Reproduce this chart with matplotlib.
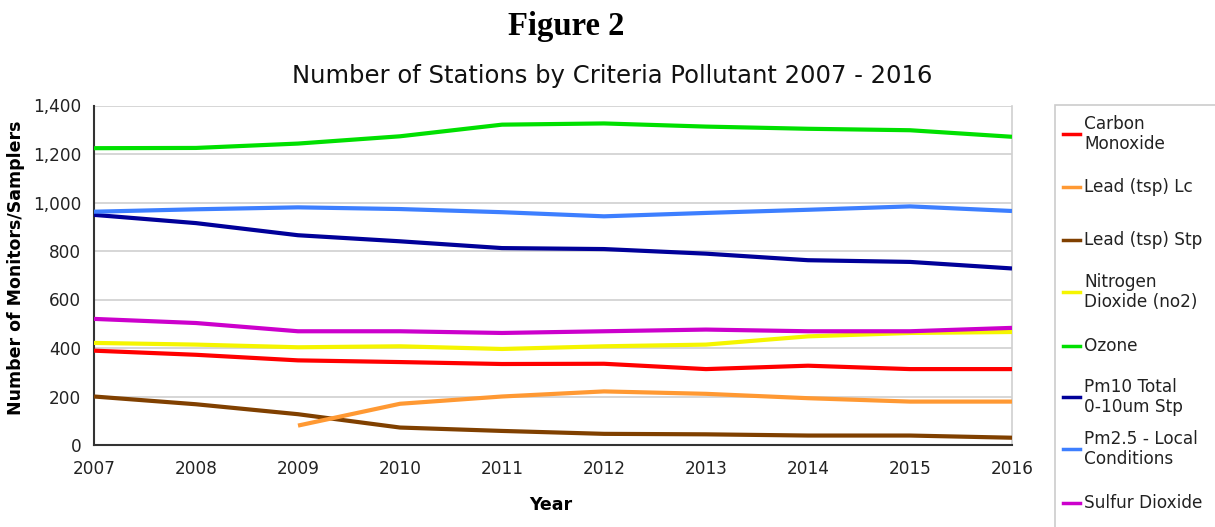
import matplotlib
matplotlib.use("Agg")
import matplotlib.pyplot as plt
from matplotlib.ticker import FuncFormatter, MultipleLocator
from matplotlib.lines import Line2D
from matplotlib.patches import Rectangle

years = [2007, 2008, 2009, 2010, 2011, 2012, 2013, 2014, 2015, 2016]

carbon_monoxide = [389, 372, 349, 342, 334, 335, 313, 327, 313, 313]
lead_tsp_lc = [None, None, 80, 170, 200, 221, 211, 193, 179, 179]
lead_tsp_stp = [200, 168, 127, 72, 58, 46, 44, 39, 39, 30]
nitrogen_dioxide = [421, 414, 403, 407, 396, 407, 414, 448, 462, 466]
ozone = [1224, 1225, 1243, 1273, 1321, 1326, 1313, 1304, 1298, 1271]
pm10 = [949, 915, 865, 840, 812, 808, 789, 762, 755, 728]
pm25 = [962, 972, 980, 973, 960, 943, 957, 970, 984, 965]
sulfur_dioxide = [520, 503, 469, 469, 462, 469, 476, 469, 469, 483]

series_labels = ["Carbon\nMonoxide", "Lead (tsp) Lc", "Lead (tsp) Stp",
                 "Nitrogen\nDioxide (no2)", "Ozone", "Pm10 Total\n0-10um Stp",
                 "Pm2.5 - Local\nConditions", "Sulfur Dioxide"]
series_values = [carbon_monoxide, lead_tsp_lc, lead_tsp_stp, nitrogen_dioxide,
                 ozone, pm10, pm25, sulfur_dioxide]
series_colors = ["#ff0000", "#ff9933", "#804000", "#f5f500",
                 "#00e000", "#000099", "#3d7fff", "#cc00cc"]
draw_order = [2, 1, 0, 3, 7, 5, 6, 4]

SANS = "DejaVu Sans"
W, H = 1215, 527
fig = plt.figure(figsize=(W / 100, H / 100), dpi=100)
fig.patch.set_facecolor("white")

left, right, top, bottom = 94, 1012, 105.5, 445
ax = fig.add_axes([left / W, 1 - bottom / H, (right - left) / W, (bottom - top) / H])

for i in draw_order:
    xs = [x for x, v in zip(years, series_values[i]) if v is not None]
    ys = [v for v in series_values[i] if v is not None]
    ax.plot(xs, ys, color=series_colors[i], lw=3.0, solid_capstyle="butt",
            solid_joinstyle="round", zorder=3)

ax.set_xlim(2007, 2016)
ax.set_ylim(0, 1400)
ax.yaxis.set_major_locator(MultipleLocator(200))
ax.set_xticks(years)
ax.yaxis.set_major_formatter(FuncFormatter(lambda v, p: f"{int(v):,}"))
ax.grid(axis="y", color="#d0d0d0", lw=1.2, zorder=1)
ax.tick_params(length=0, labelsize=12.2, colors="#222222", pad=9)
ax.tick_params(axis="x", pad=11)
for lab in ax.get_xticklabels() + ax.get_yticklabels():
    lab.set_family(SANS)
for s in ["left", "bottom"]:
    ax.spines[s].set_color("#333333")
    ax.spines[s].set_linewidth(1.5)
ax.spines["right"].set_color("#d0d0d0")
ax.spines["right"].set_linewidth(1.2)
ax.spines["top"].set_visible(False)
ax.set_facecolor("white")

fig.text(566 / W, 1 - 27 / H, "Figure 2", family="Liberation Serif",
         weight="bold", fontsize=23.5, ha="center", va="center")
fig.text(612 / W, 1 - 76 / H, "Number of Stations by Criteria Pollutant 2007 - 2016",
         family=SANS, fontsize=17.5, ha="center", va="center",
         color="#111111")
fig.text(16 / W, 1 - 268 / H, "Number of Monitors/Samplers", family=SANS,
         weight="bold", fontsize=12.5, rotation=90, ha="center", va="center")
fig.text(551 / W, 1 - 505 / H, "Year", family=SANS,
         weight="bold", fontsize=12.5, ha="center", va="center")

# legend
fig.patches.append(Rectangle((1055 / W, -0.05), 0.2, 1 - 105 / H + 0.05,
                             transform=fig.transFigure, fill=False,
                             edgecolor="#cccccc", lw=1.2))
leg_y = [134, 187, 240, 292, 346, 397, 449, 503]
for lab, col, yy in zip(series_labels, series_colors, leg_y):
    fy = 1 - yy / H
    fig.lines.append(Line2D([1063 / W, 1080 / W], [fy, fy], transform=fig.transFigure,
                            color=col, lw=2.5))
    fig.text(1084 / W, fy, lab, family=SANS, fontsize=12.2,
             ha="left", va="center", linespacing=1.15, color="#222222")

fig.savefig("out.png", dpi=100, facecolor="white")
